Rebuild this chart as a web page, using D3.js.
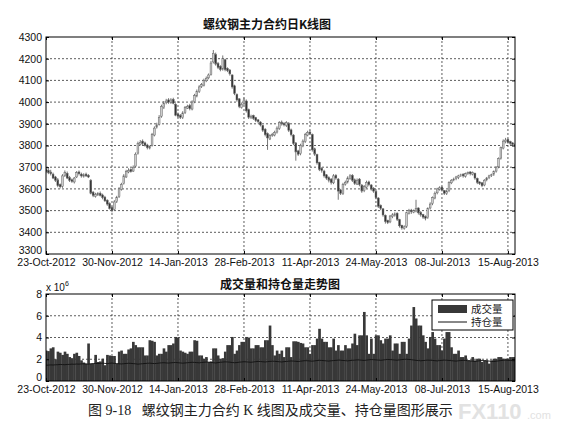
<!DOCTYPE html>
<html><head><meta charset="utf-8">
<script src="https://cdn.jsdelivr.net/npm/d3@7"></script>
<style>
body{margin:0;background:#fff;}
svg{display:block;}
.ax text{font-family:"Liberation Sans",Arial,sans-serif;font-size:10.5px;fill:#111;}
.ax path,.ax line{stroke:#000;stroke-width:1;}
</style></head>
<body>
<svg id="c" width="563" height="434"></svg>
<script>
// ---- data ----
const tickIdx = [0,28,56,84,112,140,168,196];
const tickLabels = ["23-Oct-2012","30-Nov-2012","14-Jan-2013","28-Feb-2013","11-Apr-2013","24-May-2013","08-Jul-2013","15-Aug-2013"];
const priceTicks = [3300,3400,3500,3600,3700,3800,3900,4000,4100,4200,4300];
const volTicks = [0,2,4,6,8];

const opens = [3690,3685,3678,3668,3655,3642,3620,3612,3662,3672,
3652,3642,3632,3655,3678,3668,3658,3668,3662,3640,
3585,3565,3572,3580,3572,3562,3548,3532,3515,3505,
3542,3565,3598,3625,3655,3678,3690,3682,3705,3765,
3805,3820,3812,3802,3788,3800,3848,3885,3898,3935,
3975,3998,4010,3998,4012,3990,3945,3938,3928,3952,
3972,3985,3968,4002,4028,4048,4072,4078,4098,4112,
4128,4185,4220,4178,4165,4152,4195,4155,4148,4125,
4075,4035,4015,3975,3992,4005,3965,3928,3938,3928,
3918,3908,3892,3875,3855,3830,3848,3848,3862,3878,
3908,3902,3892,3902,3872,3848,3812,3775,3762,3798,
3818,3848,3862,3850,3785,3758,3722,3695,3682,3665,
3652,3645,3628,3662,3645,3595,3578,3622,3632,3648,
3662,3642,3622,3645,3618,3592,3608,3632,3618,3602,
3588,3558,3525,3508,3478,3455,3448,3472,3478,3488,
3458,3432,3418,3428,3488,3502,3492,3498,3512,3492,
3482,3472,3468,3512,3532,3558,3582,3598,3608,3592,
3578,3592,3628,3642,3648,3652,3662,3668,3658,3672,
3678,3668,3672,3648,3632,3628,3618,3642,3652,3662,
3668,3682,3702,3742,3788,3818,3828,3818,3812,3802];
const highs = [3700,3695,3688,3675,3660,3650,3625,3668,3685,3680,
3660,3648,3655,3682,3685,3675,3672,3675,3668,3645,
3590,3582,3585,3588,3578,3568,3552,3538,3520,3548,
3568,3608,3628,3668,3688,3695,3695,3708,3768,3818,
3825,3828,3818,3808,3800,3858,3888,3905,3940,3988,
4005,4015,4018,4018,4020,3995,3952,3945,3958,3982,
3988,3992,4008,4038,4058,4078,4088,4108,4118,4132,
4190,4240,4228,4185,4170,4215,4200,4160,4152,4128,
4080,4040,4018,3998,4020,4012,3970,3942,3942,3932,
3922,3912,3895,3880,3860,3852,3858,3868,3888,3912,
3915,3908,3912,3908,3878,3852,3815,3780,3808,3828,
3858,3868,3870,3855,3790,3762,3725,3700,3688,3668,
3658,3650,3668,3668,3650,3600,3628,3638,3658,3668,
3668,3648,3648,3650,3622,3618,3638,3638,3622,3608,
3592,3562,3528,3512,3482,3458,3480,3488,3492,3492,
3462,3435,3432,3495,3508,3508,3505,3550,3515,3498,
3485,3478,3515,3538,3565,3588,3605,3612,3612,3595,
3595,3635,3645,3652,3660,3665,3670,3672,3675,3680,
3682,3680,3675,3652,3635,3632,3645,3655,3665,3670,
3685,3705,3745,3795,3828,3835,3832,3822,3815,3810];
const lows = [3672,3668,3662,3645,3632,3608,3602,3605,3655,3645,
3632,3628,3625,3650,3662,3652,3652,3655,3650,3575,
3562,3560,3568,3565,3552,3540,3522,3505,3492,3500,
3535,3558,3592,3620,3650,3672,3675,3678,3700,3758,
3800,3802,3795,3782,3782,3795,3842,3878,3892,3928,
3968,3990,3992,3992,3990,3935,3928,3922,3922,3945,
3968,3962,3962,3995,4022,4042,4065,4072,4092,4105,
4122,4178,4168,4152,4142,4145,4142,4138,4122,4062,
4032,4002,3972,3970,3985,3952,3922,3922,3918,3908,
3902,3888,3862,3842,3780,3825,3840,3842,3855,3872,
3892,3888,3885,3862,3842,3802,3730,3752,3755,3792,
3812,3842,3848,3772,3752,3712,3682,3675,3652,3642,
3630,3620,3622,3642,3550,3572,3572,3615,3625,3642,
3632,3618,3618,3612,3582,3585,3602,3612,3592,3582,
3552,3512,3502,3472,3440,3438,3442,3465,3472,3452,
3422,3412,3412,3420,3482,3485,3488,3492,3482,3472,
3462,3455,3462,3505,3525,3552,3575,3592,3588,3572,
3572,3585,3622,3635,3640,3645,3655,3652,3652,3665,
3662,3662,3642,3622,3618,3608,3612,3635,3645,3655,
3660,3675,3695,3735,3782,3810,3808,3802,3798,3795];
const closes = [3680,3675,3670,3650,3640,3615,3610,3660,3675,3650,
3640,3635,3650,3675,3670,3660,3665,3660,3655,3580,
3570,3575,3578,3570,3560,3545,3530,3510,3500,3540,
3560,3600,3620,3660,3680,3685,3680,3700,3760,3810,
3815,3810,3800,3790,3795,3850,3880,3895,3930,3980,
3995,4005,4000,4010,3995,3940,3935,3930,3950,3975,
3980,3970,4000,4030,4050,4070,4080,4100,4110,4125,
4180,4225,4175,4160,4150,4200,4150,4145,4130,4070,
4040,4010,3980,3990,4010,3960,3930,3935,3925,3915,
3910,3895,3870,3850,3835,3845,3850,3860,3880,3905,
3900,3895,3905,3870,3850,3810,3770,3760,3800,3820,
3850,3860,3855,3780,3760,3720,3690,3685,3660,3650,
3640,3630,3660,3650,3590,3580,3620,3630,3650,3660,
3640,3625,3640,3620,3590,3610,3630,3620,3600,3590,
3560,3520,3510,3480,3450,3445,3475,3480,3485,3460,
3430,3420,3425,3490,3500,3495,3500,3510,3490,3480,
3470,3465,3510,3530,3560,3580,3600,3605,3595,3580,
3590,3630,3640,3645,3655,3660,3665,3660,3670,3675,
3670,3675,3650,3630,3625,3615,3640,3650,3660,3665,
3680,3700,3740,3790,3820,3825,3815,3810,3805,3805];
// volume, x 10^6
const volume = [2.8,2.75,3.0,3.1,2.0,2.7,2.6,2.4,2.7,2.5,
2.2,2.1,2.5,2.6,2.3,1.9,1.7,1.6,3.45,1.6,
1.6,2.4,1.75,1.8,2.05,1.45,2.4,2.35,2.3,2.3,
1.6,2.7,2.8,2.5,2.5,2.9,3.0,3.6,3.3,3.1,
3.1,3.1,2.35,2.35,3.75,3.7,3.6,2.35,2.5,2.5,
3.0,2.7,3.3,3.3,3.45,4.05,4.0,2.8,2.7,2.6,
2.5,2.7,2.7,3.75,3.7,2.35,2.35,2.05,2.2,1.75,
1.8,3.0,3.0,2.35,2.05,2.1,2.7,3.3,3.3,4.05,
2.5,2.8,3.3,3.6,3.6,4.05,4.0,3.0,3.0,3.3,
3.3,3.1,3.1,3.75,3.75,5.1,3.3,2.35,2.8,2.5,
2.8,2.2,3.1,3.1,2.2,3.65,3.65,3.6,3.5,3.45,
3.1,3.1,2.5,3.3,3.3,3.9,4.8,3.9,3.6,3.6,
3.1,3.1,3.9,2.8,3.3,2.8,2.8,3.3,3.0,3.0,
3.45,4.35,3.3,4.2,4.2,6.35,4.2,2.5,3.9,2.5,
4.2,4.2,3.75,3.45,3.9,3.9,4.2,2.8,3.45,3.45,
2.5,3.6,3.6,2.5,3.9,5.1,6.8,5.75,5.1,5.1,
4.2,3.6,3.0,4.05,4.5,3.9,3.3,3.3,2.8,3.9,
4.5,4.5,3.1,2.5,2.5,2.8,2.2,2.2,2.35,1.9,
1.9,2.2,1.9,2.05,2.05,1.75,1.9,1.9,1.6,1.9,
2.05,2.05,2.2,2.2,2.05,2.05,2.05,2.2,2.2,2.2];
// open interest, x 10^6
const openInterest = [1.45,1.46,1.48,1.47,1.49,1.50,1.52,1.51,1.50,1.52,
1.53,1.55,1.54,1.56,1.55,1.57,1.58,1.56,1.55,1.58,
1.60,1.62,1.61,1.63,1.64,1.62,1.60,1.63,1.65,1.62,
1.60,1.58,1.57,1.59,1.61,1.63,1.62,1.60,1.58,1.55,
1.57,1.59,1.61,1.63,1.64,1.62,1.60,1.62,1.65,1.67,
1.68,1.66,1.65,1.67,1.69,1.70,1.68,1.66,1.64,1.66,
1.68,1.70,1.72,1.71,1.69,1.67,1.70,1.72,1.74,1.73,
1.71,1.68,1.66,1.69,1.72,1.74,1.76,1.75,1.73,1.70,
1.68,1.70,1.73,1.75,1.77,1.76,1.74,1.72,1.75,1.78,
1.80,1.79,1.77,1.75,1.78,1.80,1.82,1.81,1.79,1.77,
1.75,1.78,1.80,1.82,1.84,1.83,1.81,1.79,1.82,1.85,
1.87,1.86,1.84,1.82,1.85,1.88,1.90,1.89,1.87,1.85,
1.83,1.86,1.88,1.90,1.92,1.91,1.89,1.87,1.85,1.88,
1.90,1.92,1.94,1.93,1.91,1.89,1.92,1.95,1.97,1.96,
1.94,1.92,1.90,1.93,1.96,1.98,1.97,1.95,1.93,1.91,
1.94,1.97,1.99,2.00,1.98,1.96,1.93,1.90,1.88,1.86,
1.88,1.90,1.92,1.91,1.89,1.87,1.85,1.88,1.90,1.92,
1.91,1.89,1.87,1.85,1.83,1.86,1.88,1.90,1.89,1.87,
1.85,1.82,1.80,1.83,1.86,1.88,1.87,1.85,1.83,1.81,
1.79,1.82,1.85,1.88,1.90,1.92,1.91,1.89,1.87,1.86];

// ---- drawing ----
const svg = d3.select("#c");
const L = 46, R = 515;
const top1 = 37, bot1 = 254, top2 = 294, bot2 = 381;
const n = closes.length;
const x = d3.scaleLinear().domain([0, n - 1]).range([L, R]);
const y1 = d3.scaleLinear().domain([3300, 4300]).range([bot1, top1]);
const y2 = d3.scaleLinear().domain([0, 8]).range([bot2, top2]);
const cjk = '"Noto Sans CJK SC","Noto Sans",sans-serif';

svg.append("defs").call(d => {
  d.append("clipPath").attr("id","cp1").append("rect").attr("x",L).attr("y",top1).attr("width",R-L).attr("height",bot1-top1);
  d.append("clipPath").attr("id","cp2").append("rect").attr("x",L).attr("y",top2).attr("width",R-L).attr("height",bot2-top2);
});

function grid(yScale, yVals, t, b) {
  const g = svg.append("g").attr("stroke","#333").attr("stroke-width",0.8).attr("stroke-dasharray","2,2");
  yVals.slice(1, -1).forEach(v => g.append("line").attr("x1",L).attr("x2",R).attr("y1",yScale(v)).attr("y2",yScale(v)));
  tickIdx.slice(1).forEach(v => g.append("line").attr("x1",x(v)).attr("x2",x(v)).attr("y1",t).attr("y2",b));
}
grid(y1, priceTicks, top1, bot1);
grid(y2, volTicks, top2, bot2);

// candles
const idx = d3.range(n);
const cg = svg.append("g").attr("clip-path","url(#cp1)");
cg.selectAll("line.w").data(idx).join("line")
  .attr("x1", i => x(i)).attr("x2", i => x(i))
  .attr("y1", i => y1(highs[i])).attr("y2", i => y1(lows[i]))
  .attr("stroke", "#666").attr("stroke-width", 0.9);
const bw = 1.8;
cg.selectAll("rect.b").data(idx).join("rect")
  .attr("x", i => x(i) - bw / 2).attr("width", bw)
  .attr("y", i => y1(Math.max(opens[i], closes[i])))
  .attr("height", i => Math.max(0.8, Math.abs(y1(opens[i]) - y1(closes[i]))))
  .attr("fill", i => closes[i] >= opens[i] ? "#ccc" : "#333")
  .attr("stroke", "#666").attr("stroke-width", 0.5);

// volume bars
const step = x(1) - x(0);
const vg = svg.append("g").attr("clip-path","url(#cp2)");
vg.selectAll("rect").data(idx).join("rect")
  .attr("x", i => x(i) - step / 2).attr("width", step + 0.3)
  .attr("y", i => y2(volume[i])).attr("height", i => y2(0) - y2(volume[i]))
  .attr("fill", "#383838");
vg.append("path").datum(idx)
  .attr("d", d3.line().x(i => x(i)).y(i => y2(openInterest[i])))
  .attr("fill","none").attr("stroke","#111").attr("stroke-width",0.9);

// axes
function axes(yScale, yVals, t, b, fmt) {
  const ly = svg.append("g").attr("class","ax").attr("transform",`translate(${L},0)`)
    .call(d3.axisLeft(yScale).tickValues(yVals).tickFormat(fmt).tickSizeInner(-3).tickSizeOuter(0).tickPadding(4));
  // lowest label sits just above the date labels, as in the reference
  ly.selectAll(".tick text").filter(d => d === yVals[0]).attr("dy", "-0.05em");
  svg.append("g").attr("class","ax").attr("transform",`translate(${R},0)`)
    .call(d3.axisRight(yScale).tickValues(yVals).tickFormat("").tickSizeInner(-3).tickSizeOuter(0));
  svg.append("g").attr("class","ax").attr("transform",`translate(0,${b})`)
    .call(d3.axisBottom(x).tickValues(tickIdx).tickFormat((d, i) => tickLabels[i]).tickSizeInner(-3).tickSizeOuter(0).tickPadding(5));
  svg.append("g").attr("class","ax").attr("transform",`translate(0,${t})`)
    .call(d3.axisTop(x).tickValues(tickIdx).tickFormat("").tickSizeInner(-3).tickSizeOuter(0));
  svg.append("rect").attr("x",L).attr("y",t).attr("width",R-L).attr("height",b-t)
    .attr("fill","none").attr("stroke","#000").attr("stroke-width",1);
}
axes(y1, priceTicks, top1, bot1, d3.format("d"));
axes(y2, volTicks, top2, bot2, d3.format("d"));
svg.selectAll(".ax .domain").remove();

// titles
svg.append("text").attr("x",267).attr("y",29).attr("text-anchor","middle")
  .style("font-family",cjk).style("font-size","12px").style("font-weight","bold").attr("fill","#111")
  .text("螺纹钢主力合约日K线图");
svg.append("text").attr("x",280).attr("y",289).attr("text-anchor","middle")
  .style("font-family",cjk).style("font-size","12px").style("font-weight","bold").attr("fill","#111")
  .text("成交量和持仓量走势图");
const ex = svg.append("text").attr("x",46).attr("y",291)
  .style("font-family",'"Liberation Sans",Arial,sans-serif').style("font-size","10px").attr("fill","#111");
ex.append("tspan").text("x 10");
ex.append("tspan").attr("dy",-5).style("font-size","7px").text("6");

// legend
const lg = svg.append("g");
lg.append("rect").attr("x",432).attr("y",300).attr("width",81).attr("height",30)
  .attr("fill","#fff").attr("stroke","#000").attr("stroke-width",1);
lg.append("rect").attr("x",438).attr("y",305).attr("width",29).attr("height",8).attr("fill","#383838");
lg.append("line").attr("x1",438).attr("x2",467).attr("y1",322).attr("y2",322).attr("stroke","#111").attr("stroke-width",1);
lg.append("text").attr("x",471).attr("y",312.5).style("font-family",cjk).style("font-size","10.5px").attr("fill","#222").text("成交量");
lg.append("text").attr("x",471).attr("y",326).style("font-family",cjk).style("font-size","10.5px").attr("fill","#222").text("持仓量");

// caption + watermark
svg.append("text").attr("x",88).attr("y",415)
  .style("font-family",'"Liberation Serif","Noto Sans CJK SC",serif').style("font-size","14px").attr("fill","#222")
  .attr("xml:space","preserve")
  .text("图 9-18   螺纹钢主力合约 K 线图及成交量、持仓量图形展示");
svg.append("text").attr("x",458).attr("y",419)
  .style("font-family",'"Liberation Sans",Arial,sans-serif').style("font-size","22px").style("font-weight","bold").attr("fill","#e2e2e2")
  .text("FX110");
svg.append("text").attr("x",527).attr("y",419)
  .style("font-family",'"Liberation Sans",Arial,sans-serif').style("font-size","11px").attr("fill","#e2e2e2")
  .text(".com");
</script>
</body></html>
